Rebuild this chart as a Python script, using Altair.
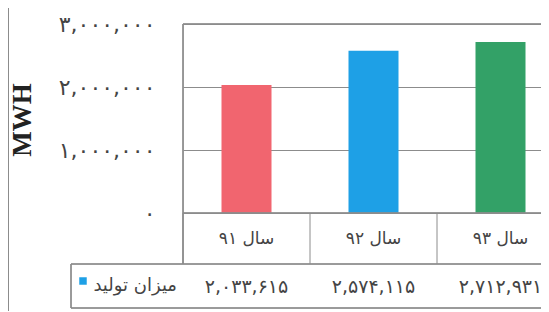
import altair as alt
import pandas as pd

# ---- data ----
categories = ["سال ۹۱", "سال ۹۲", "سال ۹۳"]
values = [2033615, 2574115, 2712931]
bar_colors = ["#F1656F", "#1EA0E6", "#33A167"]
value_labels = ["۲,۰۳۳,۶۱۵", "۲,۵۷۴,۱۱۵", "۲,۷۱۲,۹۳۱"]
y_ticks = [0, 1000000, 2000000, 3000000]
y_tick_labels = ["۰", "۱,۰۰۰,۰۰۰", "۲,۰۰۰,۰۰۰", "۳,۰۰۰,۰۰۰"]
series_name = "میزان تولید"
y_title = "MWH"

df = pd.DataFrame({"cat": categories, "val": values, "label": value_labels, "color": bar_colors})

W, H = 358, 189
PLOT_W = 381
ROW1 = 240
ROW2 = 284
LINE = "#8C8C8C"
FONT = "DejaVu Sans"
TXT = "#444444"

label_expr = "[" + ",".join(f"'{l}'" for l in y_tick_labels) + "][round(datum.value/1000000)]"

xscale = alt.Scale(domain=categories, range=[0, PLOT_W], paddingInner=0, paddingOuter=0)
x_enc = alt.X("cat:N", scale=xscale, axis=None)

base = alt.Chart(df)

bars = base.mark_bar(size=50).encode(
    x=x_enc,
    y=alt.Y("val:Q", scale=alt.Scale(domain=[0, 3000000], nice=False),
            axis=alt.Axis(values=y_ticks, labelExpr=label_expr, title=None, domain=False,
                          ticks=False, tickSize=0, labelPadding=28, labelFontSize=22,
                          labelFont=FONT, labelColor=TXT, grid=True,
                          gridColor=LINE, gridWidth=1)),
    color=alt.Color("color:N", scale=None),
)

cat_text = base.mark_text(font=FONT, fontSize=17, color=TXT, baseline="middle").encode(
    x=x_enc, y=alt.value(215), text="cat:N")
val_text = base.mark_text(font=FONT, fontSize=19, color=TXT, baseline="middle").encode(
    x=x_enc, y=alt.value(263), text="label:N")

dividers = base.mark_rule(color=LINE, strokeWidth=1).encode(
    x=alt.X("cat:N", scale=xscale, axis=None, bandPosition=0),
    y=alt.value(H), y2=alt.value(ROW1))


def hline(x1, x2, y):
    return alt.Chart(df).mark_rule(color=LINE, strokeWidth=1).encode(
        x=alt.value(x1), x2=alt.value(x2), y=alt.value(y))


def vline(x, y1, y2):
    return alt.Chart(df).mark_rule(color=LINE, strokeWidth=1).encode(
        x=alt.value(x), y=alt.value(y1), y2=alt.value(y2))


lines = [
    hline(0, PLOT_W, 0),
    hline(0, PLOT_W, H),
    hline(-112, PLOT_W, ROW1),
    hline(-112, PLOT_W, ROW2),
    vline(0, 0, ROW1),
    vline(-112, ROW1, ROW2),
    vline(-174.5, -16, 300),
]

legend_key = alt.Chart(pd.DataFrame({"c": [bar_colors[1]]})).mark_square(
    size=56, filled=True, opacity=1).encode(
    x=alt.value(-100), y=alt.value(257), color=alt.Color("c:N", scale=None))
legend_text = alt.Chart(pd.DataFrame({"t": [series_name]})).mark_text(
    font=FONT, fontSize=18, color=TXT, align="right", baseline="middle").encode(
    x=alt.value(-6), y=alt.value(262), text="t:N")

title = alt.Chart(pd.DataFrame({"t": [y_title]})).mark_text(
    font="Liberation Serif", fontSize=27, fontWeight="bold", color="#222222",
    angle=270, baseline="middle", align="center").encode(
    x=alt.value(-160), y=alt.value(96), text="t:N")

chart = alt.layer(bars, dividers, *lines, cat_text, val_text, legend_key, legend_text, title).properties(
    width=W, height=H,
    autosize=alt.AutoSizeParams(type="none"),
    padding={"left": 175, "top": 16, "right": 0, "bottom": 98},
).configure_view(stroke="transparent").configure(background="white")

chart.save("out.html", embed_options={"renderer": "svg", "actions": False})
